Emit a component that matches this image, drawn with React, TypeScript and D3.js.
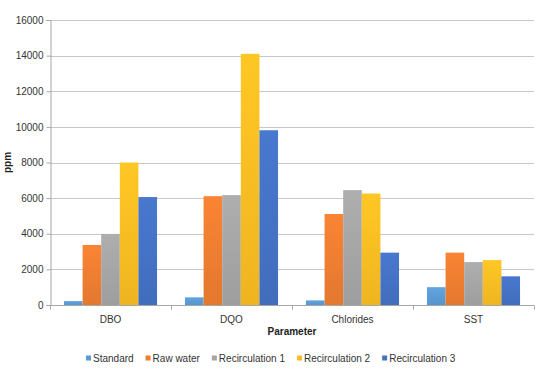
import React, { useRef, useEffect } from 'react';
import * as d3 from 'd3';

const categories = ['DBO', 'DQO', 'Chlorides', 'SST'];
const seriesNames = ['Standard', 'Raw water', 'Recirculation 1', 'Recirculation 2', 'Recirculation 3'];
const standard = [220, 430, 260, 1000];
const rawWater = [3370, 6110, 5110, 2940];
const recirculation1 = [3990, 6170, 6450, 2410];
const recirculation2 = [8000, 14100, 6260, 2520];
const recirculation3 = [6060, 9810, 2940, 1610];
const yTicks = [0, 2000, 4000, 6000, 8000, 10000, 12000, 14000, 16000];

const colors = ['#5B9BD5', '#ED7D31', '#A5A5A5', '#F8BD22', '#4472C4'];

const W = 539;
const H = 375;
const margin = { left: 50, right: 5, top: 20, bottom: 70 };

const App: React.FC = () => {
  const ref = useRef<SVGSVGElement>(null);

  useEffect(() => {
    const svg = d3.select(ref.current);
    svg.selectAll('*').remove();
    const font = 'Liberation Sans, Arial, sans-serif';
    const values = [standard, rawWater, recirculation1, recirculation2, recirculation3];

    const x0 = d3.scaleBand<string>()
      .domain(categories)
      .range([margin.left, W - margin.right])
      .paddingInner(0)
      .paddingOuter(0);
    const x1 = d3.scaleBand<string>()
      .domain(seriesNames)
      .range([0, x0.bandwidth()])
      .paddingInner(0)
      .paddingOuter(0.75);
    const y = d3.scaleLinear()
      .domain([0, 16000])
      .range([H - margin.bottom, margin.top]);

    // gradients
    const defs = svg.append('defs');
    colors.forEach((c, i) => {
      const g = defs.append('linearGradient')
        .attr('id', 'grad' + i)
        .attr('x1', 0).attr('x2', 0).attr('y1', 0).attr('y2', 1);
      g.append('stop').attr('offset', '0%').attr('stop-color', d3.color(c)!.brighter(0.15).toString());
      g.append('stop').attr('offset', '100%').attr('stop-color', d3.color(c)!.darker(0.12).toString());
    });

    // gridlines
    svg.append('g')
      .selectAll('line')
      .data(yTicks.slice(1))
      .join('line')
      .attr('x1', margin.left)
      .attr('x2', W - margin.right)
      .attr('y1', d => Math.round(y(d)) + 0.5)
      .attr('y2', d => Math.round(y(d)) + 0.5)
      .attr('stroke', '#c8c8c8')
      .attr('stroke-width', 1);

    // bars
    seriesNames.forEach((s, si) => {
      svg.append('g')
        .selectAll('rect')
        .data(values[si])
        .join('rect')
        .attr('x', (d, i) => x0(categories[i])! + x1(s)!)
        .attr('y', d => y(d))
        .attr('width', x1.bandwidth())
        .attr('height', d => y(0) - y(d))
        .attr('fill', `url(#grad${si})`);
    });

    // y axis
    const yAxis = svg.append('g')
      .attr('transform', `translate(${margin.left + 0.5},0)`)
      .call(d3.axisLeft(y).tickValues(yTicks).tickSize(4).tickPadding(3).tickFormat(d3.format('d')));
    yAxis.select('.domain').attr('stroke', '#a6a6a6');
    yAxis.selectAll('.tick line').attr('stroke', '#a6a6a6');
    yAxis.selectAll('text').attr('font-family', font).attr('font-size', 10).attr('fill', '#333');

    // x axis
    const xAxis = svg.append('g')
      .attr('transform', `translate(0,${Math.round(y(0)) + 0.5})`);
    xAxis.append('line')
      .attr('x1', margin.left).attr('x2', W - margin.right)
      .attr('stroke', '#a6a6a6');
    const bounds = categories.map(c => x0(c)!).concat([x0(categories[categories.length - 1])! + x0.bandwidth()]);
    xAxis.selectAll('line.tk')
      .data(bounds)
      .join('line')
      .attr('class', 'tk')
      .attr('x1', d => Math.round(d) + 0.5).attr('x2', d => Math.round(d) + 0.5)
      .attr('y1', 0).attr('y2', 4)
      .attr('stroke', '#a6a6a6');
    xAxis.selectAll('text')
      .data(categories)
      .join('text')
      .attr('x', d => x0(d)! + x0.bandwidth() / 2)
      .attr('y', 17)
      .attr('text-anchor', 'middle')
      .attr('font-family', font)
      .attr('font-size', 10)
      .attr('fill', '#333')
      .text(d => d);

    // axis titles
    svg.append('text')
      .attr('x', (margin.left + W - margin.right) / 2)
      .attr('y', 335)
      .attr('text-anchor', 'middle')
      .attr('font-family', font)
      .attr('font-size', 10)
      .attr('font-weight', 'bold')
      .attr('fill', '#222')
      .text('Parameter');
    svg.append('text')
      .attr('transform', `translate(11,${(margin.top + H - margin.bottom) / 2}) rotate(-90)`)
      .attr('text-anchor', 'middle')
      .attr('font-family', font)
      .attr('font-size', 10)
      .attr('font-weight', 'bold')
      .attr('fill', '#222')
      .text('ppm');

    // legend
    const legend = svg.append('g').attr('transform', 'translate(86,358)');
    let lx = 0;
    seriesNames.forEach((s, i) => {
      legend.append('rect')
        .attr('x', lx).attr('y', -2.5)
        .attr('width', 5).attr('height', 5)
        .attr('fill', colors[i]);
      const t = legend.append('text')
        .attr('x', lx + 7)
        .attr('y', 3.5)
        .attr('font-family', font)
        .attr('font-size', 10)
        .attr('fill', '#333')
        .text(s);
      const w = (t.node() as SVGTextElement).getComputedTextLength();
      lx += 7 + w + 12;
    });
  }, []);

  return (
    <svg ref={ref} width={W} height={H} style={{ position: 'absolute', left: 0, top: 0, background: '#fff' }}></svg>
  );
};

export default App;
